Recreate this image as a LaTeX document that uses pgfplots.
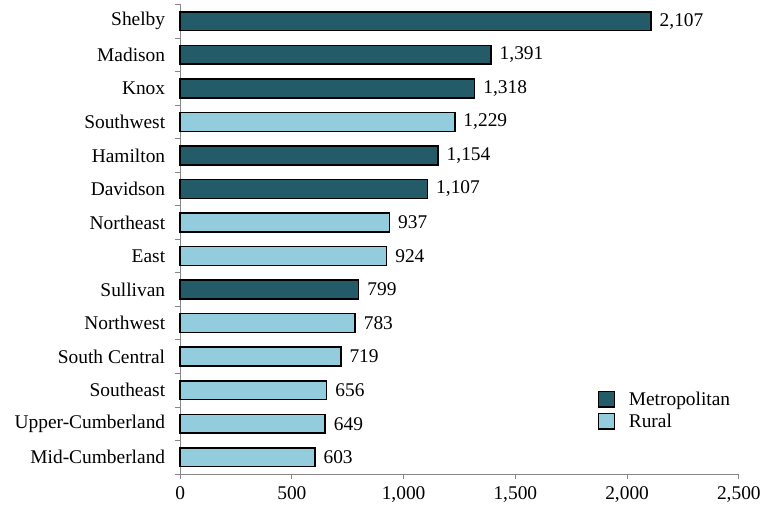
\documentclass[border=0pt]{standalone}
\usepackage{pgfplots}
\pgfplotsset{compat=1.18}
\usepackage{fontspec}
\setmainfont{Liberation Serif}
\definecolor{metro}{HTML}{235B68}
\definecolor{rural}{HTML}{93CDDD}
\definecolor{axgray}{HTML}{868686}
\begin{document}
\begin{tikzpicture}
\begin{axis}[
  scale only axis,
  width=561.5pt, height=471.9pt,
  xbar, bar width=19pt, bar shift=0pt,
  xmin=0, xmax=2500,
  ymin=-0.5, ymax=13.5,
  xtick={0,500,...,2500},
  ytick={0,...,13},
  yticklabels={Mid-Cumberland,Upper-Cumberland,Southeast,South Central,Northwest,Sullivan,East,Northeast,Davidson,Hamilton,Southwest,Knox,Madison,Shelby},
  minor ytick={-0.5,0.5,...,13.5},
  axis x line*=bottom, axis y line*=left,
  axis line style={-,draw=axgray,line width=0.8pt},
  tick align=outside,
  major tick length=5pt, minor tick length=5pt,
  every tick/.style={draw=axgray,line width=0.8pt},
  major y tick style={draw=none},
  scaled x ticks=false,
  /pgf/number format/.cd, 1000 sep={,}, assume math mode=true, /pgfplots/.cd,
  tick label style={font=\fontsize{19.5}{23}\selectfont},
  xticklabel style={yshift=-4pt},
  yticklabel style={xshift=-6.5pt},
  point meta=x,
  nodes near coords,
  nodes near coords style={font=\fontsize{19.5}{23}\selectfont, anchor=west, inner sep=8pt,
    /pgf/number format/1000 sep={,}, /pgf/number format/assume math mode=true},
  legend style={draw=none, fill=none, at={(0.747,0.179)}, anchor=north west,
    font=\fontsize{19.5}{23}\selectfont, row sep=3pt, inner sep=0pt},
  legend cell align=left,
  legend image code/.code={\draw[#1,line width=1.3pt] (0pt,-7.5pt) rectangle (16pt,8pt);},
  clip=false,
]
\addplot[draw=black, fill=metro, line width=1.5pt] coordinates {
  (2107,13) (1391,12) (1318,11) (1154,9) (1107,8) (799,5)
};
\addlegendentry{\hspace{12pt}Metropolitan}
\addplot[draw=black, fill=rural, line width=1.5pt] coordinates {
  (1229,10) (937,7) (924,6) (783,4) (719,3) (656,2) (649,1) (603,0)
};
\addlegendentry{\hspace{12pt}Rural}
\end{axis}
\path ([xshift=-181pt,yshift=-32.6pt]current axis.south west) rectangle ([xshift=21.5pt,yshift=4.5pt]current axis.north east);
\end{tikzpicture}
\end{document}
